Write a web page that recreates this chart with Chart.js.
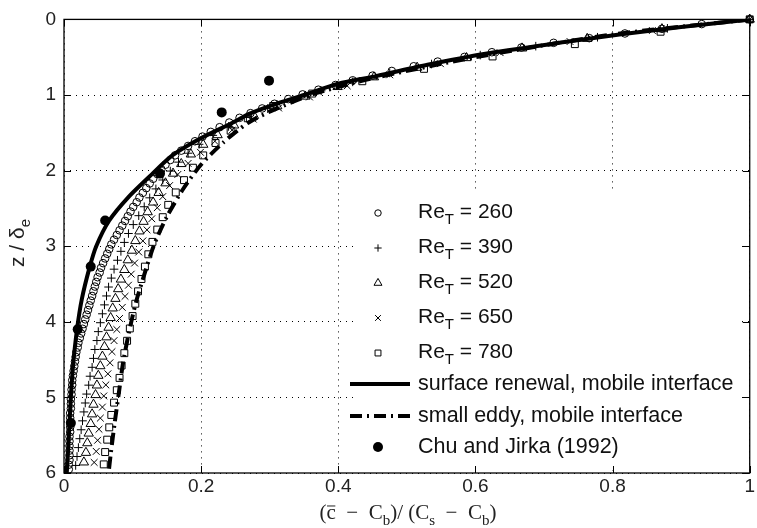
<!DOCTYPE html>
<html>
<head>
<meta charset="utf-8">
<script src="https://cdn.jsdelivr.net/npm/chart.js@4.4.1/dist/chart.umd.min.js"></script>
<style>
  html, body { margin: 0; padding: 0; background: #fff; }
  #wrap { width: 757px; height: 528px; }
</style>
</head>
<body>
<div id="wrap"><canvas id="c" width="757" height="528"></canvas></div>
<script>
// Axis ticks
const X_TICKS = [0, 0.2, 0.4, 0.6, 0.8, 1];
const Z_TICKS = [0, 1, 2, 3, 4, 5, 6];
const RE_VALUES = ['260', '390', '520', '650', '780'];

// DNS profiles: depth z/delta_e and normalised concentration
const z260 = [0,0.062,0.124,0.186,0.248,0.31,0.372,0.434,0.496,0.558,0.62,0.682,0.744,0.806,0.868,0.93,0.992,1.054,1.116,1.178,1.24,1.302,1.364,1.426,1.488,1.55,1.612,1.674,1.736,1.798,1.86,1.922,1.984,2.046,2.108,2.17,2.232,2.294,2.356,2.418,2.48,2.542,2.604,2.666,2.728,2.79,2.852,2.914,2.976,3.038,3.1,3.162,3.224,3.286,3.348,3.41,3.472,3.534,3.596,3.658,3.72,3.782,3.844,3.906,3.968,4.03,4.092,4.154,4.216,4.278,4.34,4.402,4.464,4.526,4.588,4.65,4.712,4.774,4.836,4.898,4.96,5.022,5.084,5.146,5.208,5.27,5.332,5.394,5.456,5.518,5.58,5.642,5.704,5.766,5.828,5.89,5.952];
const c260 = [1.000,0.930,0.872,0.818,0.766,0.714,0.667,0.624,0.584,0.545,0.510,0.478,0.450,0.421,0.396,0.371,0.348,0.327,0.307,0.289,0.272,0.256,0.241,0.227,0.214,0.202,0.191,0.181,0.171,0.162,0.155,0.148,0.142,0.136,0.130,0.125,0.120,0.115,0.110,0.106,0.101,0.097,0.093,0.089,0.085,0.081,0.077,0.073,0.069,0.066,0.063,0.060,0.057,0.054,0.052,0.049,0.047,0.045,0.043,0.041,0.039,0.037,0.035,0.033,0.031,0.029,0.027,0.025,0.023,0.021,0.020,0.018,0.017,0.016,0.015,0.014,0.013,0.012,0.012,0.011,0.011,0.010,0.010,0.010,0.009,0.009,0.009,0.009,0.009,0.008,0.008,0.008,0.008,0.008,0.008,0.007,0.007];

const z390 = [0,0.118,0.236,0.354,0.472,0.59,0.708,0.826,0.944,1.062,1.18,1.298,1.416,1.534,1.652,1.77,1.888,2.006,2.124,2.242,2.36,2.478,2.596,2.714,2.832,2.95,3.068,3.186,3.304,3.422,3.54,3.658,3.776,3.894,4.012,4.13,4.248,4.366,4.484,4.602,4.72,4.838,4.956,5.074,5.192,5.31,5.428,5.546,5.664,5.782,5.9];
const c390 = [1.0,0.880,0.778,0.688,0.607,0.536,0.475,0.421,0.375,0.334,0.297,0.266,0.240,0.217,0.197,0.181,0.167,0.155,0.144,0.134,0.125,0.117,0.109,0.101,0.094,0.088,0.083,0.078,0.073,0.069,0.065,0.062,0.059,0.056,0.053,0.050,0.048,0.045,0.043,0.041,0.038,0.036,0.033,0.031,0.029,0.027,0.025,0.023,0.021,0.019,0.017];

const z520 = [0,0.127,0.255,0.382,0.51,0.637,0.764,0.892,1.019,1.147,1.274,1.401,1.529,1.656,1.784,1.911,2.038,2.166,2.293,2.42,2.548,2.675,2.802,2.93,3.057,3.184,3.312,3.439,3.566,3.694,3.821,3.948,4.076,4.203,4.33,4.458,4.585,4.712,4.84,4.967,5.094,5.222,5.349,5.476,5.604,5.731,5.858];
const c520 = [1.0,0.872,0.763,0.668,0.587,0.515,0.452,0.399,0.352,0.311,0.277,0.248,0.224,0.203,0.185,0.171,0.159,0.148,0.138,0.130,0.122,0.116,0.110,0.104,0.099,0.093,0.088,0.083,0.079,0.075,0.071,0.068,0.065,0.062,0.059,0.056,0.053,0.050,0.048,0.046,0.043,0.041,0.039,0.036,0.034,0.032,0.029];

const z650 = [0,0.147,0.293,0.44,0.586,0.733,0.879,1.026,1.172,1.319,1.465,1.612,1.758,1.905,2.051,2.198,2.344,2.491,2.637,2.784,2.93,3.077,3.223,3.37,3.516,3.663,3.809,3.956,4.102,4.249,4.395,4.542,4.688,4.835,4.981,5.128,5.274,5.421,5.567,5.714,5.86];
const c650 = [1.0,0.858,0.738,0.636,0.549,0.475,0.413,0.358,0.313,0.276,0.245,0.220,0.199,0.181,0.166,0.154,0.144,0.136,0.128,0.121,0.115,0.109,0.103,0.098,0.094,0.089,0.085,0.081,0.077,0.073,0.070,0.067,0.064,0.061,0.058,0.056,0.053,0.051,0.049,0.047,0.044];

const z780 = [0,0.163,0.327,0.49,0.654,0.818,0.981,1.145,1.308,1.472,1.635,1.799,1.962,2.126,2.289,2.453,2.616,2.78,2.943,3.107,3.27,3.434,3.597,3.761,3.924,4.088,4.251,4.415,4.578,4.742,4.905,5.069,5.232,5.396,5.559,5.723,5.886];
const c780 = [1.0,0.870,0.745,0.625,0.525,0.435,0.362,0.305,0.268,0.243,0.221,0.203,0.188,0.175,0.163,0.152,0.144,0.136,0.129,0.123,0.118,0.113,0.108,0.104,0.100,0.096,0.092,0.088,0.084,0.081,0.077,0.073,0.069,0.066,0.063,0.060,0.058];

// Model curves
const zRenewal = [0,0.1,0.2,0.3,0.46,0.6,0.75,0.85,1.0,1.13,1.25,1.37,1.57,1.8,2.05,2.35,2.66,3.0,3.29,3.7,4.1,4.6,5.0,5.35,5.7,6.0];
const cRenewal = [1,0.90,0.81,0.73,0.61,0.53,0.455,0.40,0.35,0.305,0.27,0.245,0.2,0.158,0.128,0.094,0.066,0.047,0.037,0.026,0.019,0.013,0.010,0.008,0.006,0.004];
const zEddy = [0,0.2,0.5,0.8,1.0,1.2,1.37,1.63,1.92,2.24,2.61,2.99,3.35,3.74,4.17,4.55,4.94,5.33,5.76,6.0];
const cEddy = [1,0.80,0.60,0.44,0.36,0.305,0.268,0.232,0.2,0.174,0.150,0.131,0.118,0.105,0.094,0.086,0.080,0.074,0.068,0.065];

// Chu and Jirka (1992) measurements
const zChu = [0.81,1.23,2.04,2.66,3.27,4.1,5.34];
const cChu = [0.299,0.23,0.14,0.06,0.039,0.02,0.01];

const SANS = '"Liberation Sans", Arial, Helvetica, sans-serif';
const SERIF = '"Liberation Serif", "Times New Roman", serif';

function pts(cs, zs) { return cs.map((c, i) => ({ x: c, y: zs[i] })); }

const markerSets = [
  { z: z260, c: c260, style: 'circle',   r: 3.8 },
  { z: z390, c: c390, style: 'cross',    r: 4.3 },
  { z: z520, c: c520, style: 'triangle', r: 5.4 },
  { z: z650, c: c650, style: 'crossRot', r: 4.8 },
  { z: z780, c: c780, style: 'rect',     r: 4.9 }
];

const datasets = [];
datasets.push({
  label: 'Chu and Jirka (1992)', data: pts(cChu, zChu), order: 0,
  pointStyle: 'circle', pointRadius: 5, pointBackgroundColor: '#000', pointBorderColor: '#000',
  pointBorderWidth: 0, showLine: false, clip: false
});
datasets.push({
  label: 'surface renewal, mobile interface', data: pts(cRenewal, zRenewal), order: 1,
  showLine: true, borderColor: '#000', borderWidth: 4, pointRadius: 0, tension: 0.25,
  borderCapStyle: 'butt', borderJoinStyle: 'round'
});
datasets.push({
  label: 'small eddy, mobile interface', data: pts(cEddy, zEddy), order: 2,
  showLine: true, borderColor: '#000', borderWidth: 4, pointRadius: 0, tension: 0.25,
  borderDash: [12, 5, 2, 5], borderCapStyle: 'butt'
});
markerSets.forEach((m, i) => {
  datasets.push({
    label: 'Re_T = ' + RE_VALUES[i], data: pts(m.c, m.z), order: 3 + i,
    showLine: false, pointStyle: m.style, pointRadius: m.r, pointBorderWidth: 1,
    pointBorderColor: '#000', pointBackgroundColor: 'rgba(0,0,0,0)', clip: false
  });
});

// draws text runs with optional subscript / overline
function drawRuns(ctx, runs, x, y, size, family, align) {
  const subSize = Math.round(size * 0.72);
  let total = 0;
  runs.forEach(r => {
    ctx.font = (r.sub ? subSize : size) + 'px ' + family;
    r.w = ctx.measureText(r.t).width;
    total += r.w;
  });
  let cx = align === 'center' ? x - total / 2 : x;
  ctx.textBaseline = 'alphabetic';
  ctx.textAlign = 'left';
  runs.forEach(r => {
    ctx.font = (r.sub ? subSize : size) + 'px ' + family;
    const yy = r.sub ? y + size * 0.3 : y;
    ctx.fillText(r.t, cx, yy);
    if (r.over) {
      ctx.save();
      ctx.lineWidth = 1;
      ctx.strokeStyle = ctx.fillStyle;
      ctx.beginPath();
      ctx.moveTo(cx + 0.5, y - size * 0.62);
      ctx.lineTo(cx + r.w - 0.5, y - size * 0.62);
      ctx.stroke();
      ctx.restore();
    }
    cx += r.w;
  });
  return total;
}

const legendPlugin = {
  id: 'profileLegend',
  afterDatasetsDraw(chart) {
    const ctx = chart.ctx;
    ctx.save();
    ctx.fillStyle = '#fff';
    ctx.fillRect(353, 189, 389, 281);
    ctx.fillStyle = '#111';
    ctx.strokeStyle = '#000';
    const mx = 378, tx = 418;
    const rows = [213, 248, 283, 318, 353];
    markerSets.forEach((m, i) => {
      ctx.save();
      ctx.lineWidth = 1;
      ctx.strokeStyle = '#000';
      ctx.fillStyle = 'rgba(0,0,0,0)';
      Chart.helpers.drawPoint(ctx, { pointStyle: m.style, radius: m.r * 0.85, rotation: 0, borderWidth: 1 }, mx, rows[i]);
      ctx.restore();
      ctx.fillStyle = '#111';
      drawRuns(ctx, [{ t: 'Re' }, { t: 'T', sub: true }, { t: ' = ' + RE_VALUES[i] }], tx, rows[i] + 5, 21, SANS, 'left');
    });
    // solid line sample
    ctx.lineWidth = 4;
    ctx.setLineDash([]);
    ctx.beginPath(); ctx.moveTo(350, 384); ctx.lineTo(410, 384); ctx.stroke();
    drawRuns(ctx, [{ t: 'surface renewal, mobile interface' }], tx, 384 + 6, 21.5, SANS, 'left');
    // dash-dot sample
    ctx.setLineDash([12, 5, 2, 5]);
    ctx.beginPath(); ctx.moveTo(350, 416); ctx.lineTo(410, 416); ctx.stroke();
    ctx.setLineDash([]);
    drawRuns(ctx, [{ t: 'small eddy, mobile interface' }], tx, 416 + 6, 21.5, SANS, 'left');
    // filled circle
    ctx.fillStyle = '#000';
    ctx.beginPath(); ctx.arc(mx, 447, 5, 0, Math.PI * 2); ctx.fill();
    ctx.fillStyle = '#111';
    drawRuns(ctx, [{ t: 'Chu and Jirka (1992)' }], tx, 447 + 6, 21.5, SANS, 'left');
    ctx.restore();
  }
};

const framePlugin = {
  id: 'frameTicks',
  afterDraw(chart) {
    const ctx = chart.ctx;
    const a = chart.chartArea;
    const xs = chart.scales.x, ys = chart.scales.y;
    ctx.save();
    ctx.strokeStyle = '#000';
    ctx.lineWidth = 1.3;
    ctx.strokeRect(a.left, a.top, a.right - a.left, a.bottom - a.top);
    ctx.lineWidth = 1;
    const L = 7;
    ctx.beginPath();
    X_TICKS.forEach(v => {
      const px = Math.round(xs.getPixelForValue(v)) + 0.5;
      ctx.moveTo(px, a.bottom); ctx.lineTo(px, a.bottom - L);
      ctx.moveTo(px, a.top); ctx.lineTo(px, a.top + L);
    });
    Z_TICKS.forEach(v => {
      const py = Math.round(ys.getPixelForValue(v)) + 0.5;
      ctx.moveTo(a.left, py); ctx.lineTo(a.left + L, py);
      ctx.moveTo(a.right, py); ctx.lineTo(a.right - L, py);
    });
    ctx.stroke();

    // axis titles
    ctx.fillStyle = '#222';
    const sp = '\u2002';
    drawRuns(ctx, [{ t: '(' }, { t: 'c', over: true }, { t: sp + '\u2212' + sp + 'C' }, { t: 'b', sub: true }, { t: ')/ (C' }, { t: 's', sub: true }, { t: sp + '\u2212' + sp + 'C' }, { t: 'b', sub: true }, { t: ')' }],
      408, 519, 21, SERIF, 'center');
    ctx.save();
    ctx.translate(24, 243);
    ctx.rotate(-Math.PI / 2);
    drawRuns(ctx, [{ t: 'z / \u03b4' }, { t: 'e', sub: true }], 0, 0, 21, SANS, 'center');
    ctx.restore();
    ctx.restore();
  }
};

new Chart(document.getElementById('c'), {
  type: 'scatter',
  data: { datasets },
  options: {
    responsive: false,
    animation: false,
    devicePixelRatio: 1,
    layout: { padding: { left: 0, right: 5, top: 13, bottom: 0 } },
    plugins: { legend: { display: false }, tooltip: { enabled: false } },
    scales: {
      x: {
        type: 'linear', min: 0, max: 1,
        afterFit(s) { s.height = 55; },
        afterBuildTicks(s) { s.ticks = X_TICKS.map(v => ({ value: v })); },
        ticks: {
          padding: 2, color: '#222', font: { size: 19, family: SANS },
          callback: v => String(v), maxRotation: 0
        },
        grid: { color: '#000', lineWidth: 1, drawTicks: false },
        border: { display: false, dash: [1, 5] }
      },
      y: {
        type: 'linear', min: 0, max: 6, reverse: true,
        afterFit(s) { s.width = 64; },
        afterBuildTicks(s) { s.ticks = Z_TICKS.map(v => ({ value: v })); },
        ticks: {
          padding: 8, color: '#222', font: { size: 19, family: SANS },
          callback: v => String(v)
        },
        grid: { color: '#000', lineWidth: 1, drawTicks: false },
        border: { display: false, dash: [1, 5] }
      }
    }
  },
  plugins: [legendPlugin, framePlugin]
});
</script>
</body>
</html>
